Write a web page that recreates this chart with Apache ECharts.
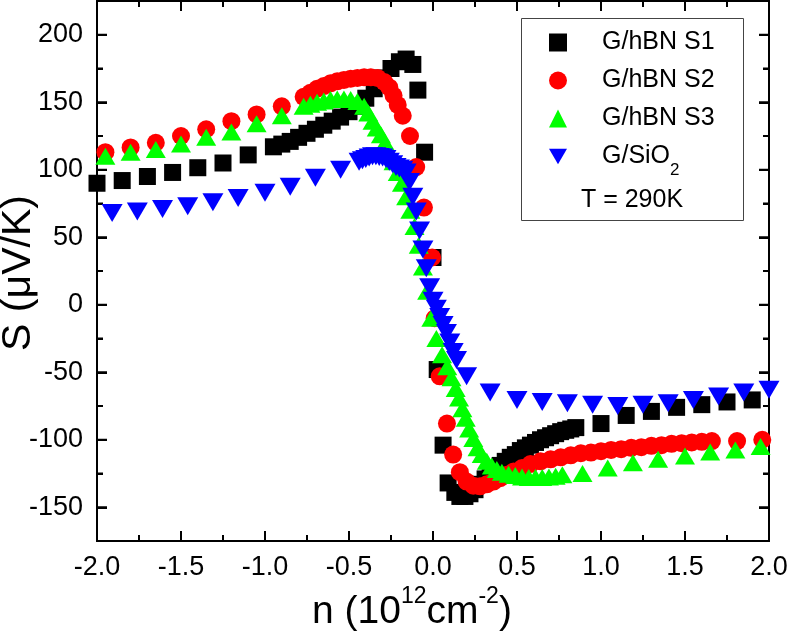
<!DOCTYPE html>
<html><head><meta charset="utf-8">
<script src="https://cdn.jsdelivr.net/npm/echarts@6/dist/echarts.min.js"></script>
<style>html,body{margin:0;padding:0;background:#fff}#c{width:793px;height:637px}</style>
</head><body><div id="c"></div>
<script>
// ---- data (n in 10^12 cm^-2, S in µV/K) ----
const s1N = [-2.0,-1.85,-1.70,-1.55,-1.40,-1.25,-1.10,-0.95,-0.90,-0.85,-0.80,-0.75,-0.70,-0.65,-0.60,-0.55,-0.50,-0.45,-0.40,-0.35,-0.30,-0.25,-0.20,-0.16,-0.12,-0.09,-0.05,0.0,0.025,0.06,0.09,0.13,0.16,0.19,0.22,0.25,0.28,0.31,0.34,0.37,0.40,0.43,0.46,0.49,0.52,0.55,0.58,0.61,0.64,0.67,0.70,0.73,0.76,0.79,0.82,0.85,1.0,1.15,1.30,1.45,1.60,1.75,1.90];
const s1S = [90,92,95,98,101.5,105,111,117,119,121,124,127,130,133,136,139,143,147,153,160,168,175,180,182,178,159,113,35,-48,-104,-132,-139,-142,-142,-140,-137,-133,-129,-126,-122,-119,-116,-113,-111,-108,-106,-104,-102,-100,-98.5,-97,-95.5,-94,-93,-92,-91,-88,-82,-79,-76,-74,-72,-70.5];

const s2N = [-1.95,-1.80,-1.65,-1.50,-1.35,-1.20,-1.05,-0.90,-0.77,-0.73,-0.69,-0.65,-0.61,-0.57,-0.53,-0.49,-0.45,-0.41,-0.37,-0.33,-0.29,-0.26,-0.235,-0.21,-0.18,-0.137,-0.10,-0.054,-0.005,0.01,0.04,0.083,0.12,0.16,0.20,0.24,0.28,0.32,0.36,0.40,0.44,0.48,0.53,0.58,0.64,0.70,0.76,0.82,0.88,0.94,1.00,1.06,1.12,1.18,1.24,1.30,1.36,1.42,1.48,1.54,1.60,1.66,1.81,1.96];
const s2S = [113,116.5,120,125,130,136,141,147,154,157,160,162,164,165.5,166.5,167.5,168,168.5,168.5,168,165,161,155,148,140,125,102,72,35,-10,-53,-88,-111,-124,-131,-134,-134.5,-133,-131,-128.5,-126,-123.5,-121,-118,-116,-114.5,-113,-111.5,-110,-109.5,-108.5,-107.5,-107,-106,-105.5,-104.5,-104,-103,-102.5,-102,-101.5,-101,-101,-100];

const s3N = [-1.95,-1.80,-1.65,-1.50,-1.35,-1.20,-1.05,-0.90,-0.77,-0.73,-0.69,-0.65,-0.61,-0.57,-0.53,-0.49,-0.45,-0.41,-0.385,-0.36,-0.335,-0.31,-0.285,-0.26,-0.235,-0.21,-0.185,-0.16,-0.135,-0.11,-0.085,-0.06,-0.035,-0.01,0.02,0.054,0.085,0.11,0.135,0.155,0.175,0.195,0.215,0.24,0.265,0.29,0.32,0.35,0.38,0.41,0.45,0.49,0.53,0.57,0.61,0.65,0.69,0.73,0.77,0.89,1.04,1.19,1.34,1.50,1.65,1.80,1.95];
const s3S = [110,113,115,119,124,128,134,140,147,148.5,150,151,152,152.5,152.5,152,150.5,147,142,136,131,126,120,113,106,98,90,80,70,58,44,28,10,-10,-25,-37,-46,-54,-62,-69,-77,-84,-92,-99,-106,-111,-116,-119.5,-122,-124,-125.5,-126.5,-127.5,-128,-128,-128,-127.5,-127,-126,-125,-121,-117,-114.5,-112,-109,-107.5,-105];

const s4N = [-1.91,-1.76,-1.61,-1.46,-1.31,-1.16,-1.00,-0.85,-0.70,-0.55,-0.44,-0.42,-0.40,-0.38,-0.36,-0.34,-0.32,-0.30,-0.28,-0.26,-0.24,-0.22,-0.20,-0.18,-0.16,-0.14,-0.12,-0.10,-0.08,-0.06,-0.04,-0.02,0.00,0.02,0.04,0.06,0.08,0.10,0.12,0.14,0.20,0.34,0.50,0.65,0.80,0.95,1.10,1.25,1.40,1.55,1.70,1.85,2.00];
const s4S = [68,69,71,73,76,79,83,87.5,94,100,106,107,108,109,110,110,109.5,109,108,106,104,102,101,100,98,91,80,69,55,41,27,13,3,-3,-9,-15,-21,-28,-35,-41,-53,-65,-70.5,-72,-73,-74,-75,-74,-73,-70.5,-68,-65,-63];

const seriesNames = ['G/hBN S1','G/hBN S2','G/hBN S3','G/SiO2'];
const xMajorTicks = [-1.5,-1,-0.5,0,0.5,1,1.5];
const xMinorTicks = [-1.75,-1.25,-0.75,-0.25,0.25,0.75,1.25,1.75];
const yMajorTicks = [-150,-100,-50,0,50,100,150,200];
const yMinorTicks = [-125,-75,-25,25,75,125,175];
const xTitle = '{m|n (10}{s|12}{m|cm}{s|-2}{m|)}';
const yTitle = 'S (μV/K)';
const noteText = 'T = 290K';

const FONT = "'Liberation Sans', Arial, sans-serif";
const pair = (a, b) => a.map((v, i) => [v, b[i]]);

const X_MIN = -2, X_MAX = 2, Y_MIN = -175, Y_MAX = 225;
const MAJ = 10, MIN = 6;

const chart = echarts.init(document.getElementById('c'));
const mkLine = () => ({show: true, onZero: false, lineStyle: {color: '#000', width: 2}});
const mkTick = () => ({color: '#000', width: 2});

function yAx(pos, major, showLabel) {
  return {
    type: 'value', min: Y_MIN, max: Y_MAX, interval: 25, position: pos,
    axisLine: mkLine(),
    axisTick: {show: true, inside: true, length: major ? MAJ : MIN, lineStyle: mkTick(),
               customValues: major ? yMajorTicks : yMinorTicks},
    axisLabel: showLabel ? {show: true, customValues: yMajorTicks, fontSize: 27, color: '#000',
               fontFamily: FONT, margin: 14} : {show: false},
    splitLine: {show: false}
  };
}
function xAx(pos, showLabel) {
  return {
    type: 'value', min: X_MIN, max: X_MAX, interval: 0.5, position: pos,
    axisLine: mkLine(),
    axisTick: {show: true, inside: true, length: MAJ, lineStyle: mkTick()},
    minorTick: {show: true, splitNumber: 2, length: MIN, lineStyle: mkTick()},
    axisLabel: showLabel ? {show: true, fontSize: 27, color: '#000', fontFamily: FONT, margin: 13,
               formatter: v => v.toFixed(1)} : {show: false},
    splitLine: {show: false}, minorSplitLine: {show: false}
  };
}

const baseGraphic = [
  {type: 'rect', shape: {x: 521.5, y: 18.5, width: 222, height: 202}, style: {fill: 'none', stroke: '#444', lineWidth: 1}},
  {type: 'text', x: 632, y: 200, style: {text: noteText, fontSize: 25, fontFamily: FONT, fill: '#000', align: 'center', verticalAlign: 'middle'}},
  {type: 'text', x: 312, y: 612, style: {text: xTitle, fill: '#000', align: 'left', verticalAlign: 'middle',
    rich: {m: {fontSize: 39, lineHeight: 44, fontFamily: FONT, fill: '#000'},
           s: {fontSize: 23, lineHeight: 44, fontFamily: FONT, fill: '#000', padding: [0, 0, 30, 0]}}}},
  {type: 'text', x: 19, y: 273, rotation: Math.PI / 2, style: {text: yTitle, fontSize: 41, fontFamily: FONT, fill: '#000', align: 'center', verticalAlign: 'middle'}}
];

const option = {
  animation: false,
  backgroundColor: '#fff',
  grid: {left: 97, right: 24, top: 1, bottom: 96, containLabel: false},
  xAxis: [xAx('bottom', true), xAx('top', false)],
  yAxis: [yAx('left', true, true), yAx('left', false, false), yAx('right', true, false), yAx('right', false, false)],
  legend: {
    orient: 'vertical', left: 544, top: 25, itemWidth: 18, itemHeight: 18, itemGap: 13,
    selectedMode: false,
    data: [
      {name: seriesNames[0]}, {name: seriesNames[1]}, {name: seriesNames[2]},
      {name: seriesNames[3], icon: 'path://M0,0L20,0L10,17Z'}
    ],
    formatter: name => name === 'G/SiO2' ? '{a|G/SiO}{b|2}' : '{a|' + name + '}',
    textStyle: {rich: {
      a: {fontSize: 25, lineHeight: 25, padding: [0, 0, 0, 30], color: '#000', fontFamily: FONT},
      b: {fontSize: 17, lineHeight: 25, padding: [14, 0, -14, 0], color: '#000', fontFamily: FONT}
    }}
  },
  graphic: baseGraphic,
  series: [
    {name: seriesNames[0], type: 'scatter', data: pair(s1N, s1S), symbol: 'rect', symbolSize: 17, itemStyle: {color: '#000000', opacity: 1}},
    {name: seriesNames[1], type: 'scatter', data: pair(s2N, s2S), symbol: 'circle', symbolSize: 18, itemStyle: {color: '#ff0000', opacity: 1}},
    {name: seriesNames[2], type: 'scatter', data: pair(s3N, s3S), symbol: 'triangle', symbolSize: [20, 17], itemStyle: {color: '#00ff00', opacity: 1}},
    {name: seriesNames[3], type: 'scatter', data: pair(s4N, s4S), symbol: 'triangle', symbolRotate: 180, symbolSize: [21, 18], itemStyle: {color: '#0000ff', opacity: 1}}
  ]
};
chart.setOption(option);

// Frame tick marks, positioned through the chart's own axis scales.
const tickEls = [];
const toPx = (x, y) => chart.convertToPixel({seriesIndex: 0}, [x, y]);
function addTick(p, dx, dy) {
  if (!p || !isFinite(p[0]) || !isFinite(p[1])) return;
  tickEls.push({type: 'line', silent: true,
    shape: {x1: p[0], y1: p[1], x2: p[0] + dx, y2: p[1] + dy},
    style: {stroke: '#000', lineWidth: 2}});
}
xMajorTicks.forEach(v => { addTick(toPx(v, Y_MIN), 0, -MAJ); addTick(toPx(v, Y_MAX), 0, MAJ); });
xMinorTicks.forEach(v => { addTick(toPx(v, Y_MIN), 0, -MIN); addTick(toPx(v, Y_MAX), 0, MIN); });
yMajorTicks.forEach(v => { addTick(toPx(X_MIN, v), MAJ, 0); addTick(toPx(X_MAX, v), -MAJ, 0); });
yMinorTicks.forEach(v => { addTick(toPx(X_MIN, v), MIN, 0); addTick(toPx(X_MAX, v), -MIN, 0); });
chart.setOption({graphic: baseGraphic.concat(tickEls)});
</script></body></html>
